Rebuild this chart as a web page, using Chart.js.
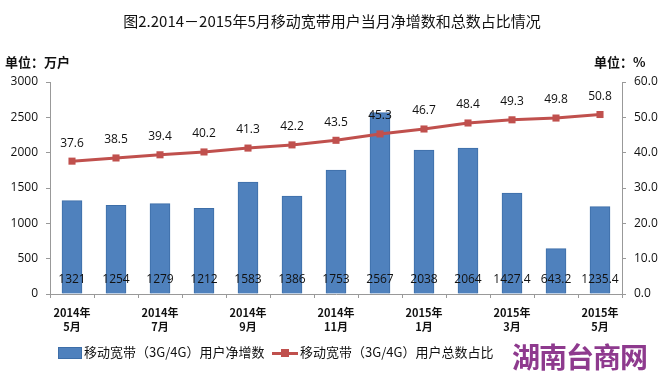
<!DOCTYPE html>
<html>
<head>
<meta charset="utf-8">
<script src="https://cdn.jsdelivr.net/npm/chart.js@4"></script>
<style>
  body { margin: 0; background: #fff; font-family: "Noto Sans CJK SC", sans-serif; }
  #wrap { position: relative; width: 662px; height: 378px; }
  canvas { position: absolute; left: 0; top: 0; }
  .txt { position: absolute; white-space: nowrap; color: #111; }
  #title { left: 0; width: 664px; top: 10px; text-align: center; font-size: 15px; }
  #unitL { left: 5px; top: 52px; font-size: 13px; font-weight: bold; }
  #unitR { left: 594px; top: 52px; font-size: 13px; font-weight: bold; }
  .leg { position: absolute; top: 342px; font-size: 13px; color: #111; white-space: nowrap; }
  #watermark { position: absolute; left: 512px; top: 336px; font-size: 28px; font-weight: bold; color: #8e3a8e; letter-spacing: -1px; }
</style>
</head>
<body>
<div id="wrap">
  <canvas id="chart" width="662" height="378"></canvas>
  <div class="txt" id="title">图2.2014－2015年5月移动宽带用户当月净增数和总数占比情况</div>
  <div class="txt" id="unitL">单位：万户</div>
  <div class="txt" id="unitR">单位：%</div>
  <div class="leg" style="left:58px;"><span style="display:inline-block;width:22px;height:10px;background:#4f81bd;border:1px solid #3d6ea8;vertical-align:middle;margin-right:2px;"></span>移动宽带（3G/4G）用户净增数</div>
  <div class="leg" style="left:272px;"><span style="display:inline-block;position:relative;width:26px;height:10px;vertical-align:middle;margin-right:2px;"><span style="position:absolute;left:0;top:4px;width:26px;height:3px;background:#c0504d;"></span><span style="position:absolute;left:9px;top:1px;width:8px;height:8px;background:#c0504d;"></span></span>移动宽带（3G/4G）用户总数占比</div>
  <div id="watermark">湖南台商网</div>
</div>
<script>
const months = ["2014年5月", "2014年6月", "2014年7月", "2014年8月", "2014年9月", "2014年10月", "2014年11月",
  "2014年12月", "2015年1月", "2015年2月", "2015年3月", "2015年4月", "2015年5月"];
const netAdds = [1321, 1254, 1279, 1212, 1583, 1386, 1753, 2567, 2038, 2064, 1427.4, 643.2, 1235.4];
const netAddLabels = ["1321", "1254", "1279", "1212", "1583", "1386", "1753", "2567", "2038", "2064", "1427.4", "643.2", "1235.4"];
const share = [37.6, 38.5, 39.4, 40.2, 41.3, 42.2, 43.5, 45.3, 46.7, 48.4, 49.3, 49.8, 50.8];
const leftTicks = [0, 500, 1000, 1500, 2000, 2500, 3000];
const rightTicks = [0, 10, 20, 30, 40, 50, 60];

const valueLabels = {
  id: "valueLabels",
  afterDatasetsDraw(chart) {
    const ctx = chart.ctx;
    ctx.save();
    ctx.font = "12px 'Open Sans', sans-serif";
    ctx.textAlign = "center";
    ctx.textBaseline = "middle";
    ctx.fillStyle = "#111";
    const yLeft = chart.scales.y;
    chart.getDatasetMeta(1).data.forEach((bar, i) => {
      ctx.fillText(netAddLabels[i], bar.x, yLeft.getPixelForValue(0) - 14);
    });
    chart.getDatasetMeta(0).data.forEach((pt, i) => {
      ctx.fillText(share[i].toFixed(1), pt.x, pt.y - 18);
    });
    ctx.restore();
  }
};

new Chart(document.getElementById("chart").getContext("2d"), {
  data: {
    labels: months,
    datasets: [
      {
        type: "line", label: "移动宽带（3G/4G）用户总数占比", data: share, yAxisID: "y2", order: 0,
        borderColor: "#c0504d", backgroundColor: "#c0504d", borderWidth: 3,
        pointStyle: "rect", pointRadius: 5, pointBorderWidth: 0, tension: 0
      },
      {
        type: "bar", label: "移动宽带（3G/4G）用户净增数", data: netAdds, yAxisID: "y", order: 1,
        backgroundColor: "#4f81bd", borderColor: "#3d6ea8", borderWidth: 1, barThickness: 20
      }
    ]
  },
  options: {
    responsive: false,
    animation: false,
    events: [],
    layout: { padding: { top: 82, bottom: 0, left: 0, right: 0 } },
    plugins: { legend: { display: false }, tooltip: { enabled: false } },
    scales: {
      x: {
        offset: true,
        grid: { drawOnChartArea: false, offset: true, tickLength: 4, color: "#999" },
        border: { color: "#999" },
        ticks: {
          autoSkip: false, maxRotation: 0, padding: 7, color: "#111",
          font: { family: "'Noto Sans CJK SC'", size: 11, weight: "bold", lineHeight: 1.35 },
          callback: (v, i) => i % 2 === 0 ? [months[i].slice(0, 5), months[i].slice(5)] : ""
        },
        afterFit: s => { s.height = 84; }
      },
      y: {
        position: "left", min: 0, max: 3000,
        afterBuildTicks: s => { s.ticks = leftTicks.map(v => ({ value: v })); },
        grid: { drawOnChartArea: false, tickLength: 4, color: "#999" },
        border: { color: "#999" },
        ticks: { color: "#111", padding: 8, font: { family: "'Open Sans'", size: 12 }, callback: v => String(v) },
        afterFit: s => { s.width = 50; }
      },
      y2: {
        position: "right", min: 0, max: 60,
        afterBuildTicks: s => { s.ticks = rightTicks.map(v => ({ value: v })); },
        grid: { drawOnChartArea: false, tickLength: 4, color: "#999" },
        border: { color: "#999" },
        ticks: { color: "#111", padding: 8, font: { family: "'Open Sans'", size: 12 }, callback: v => v.toFixed(1) },
        afterFit: s => { s.width = 40; }
      }
    }
  },
  plugins: [valueLabels]
});
</script>
</body>
</html>
